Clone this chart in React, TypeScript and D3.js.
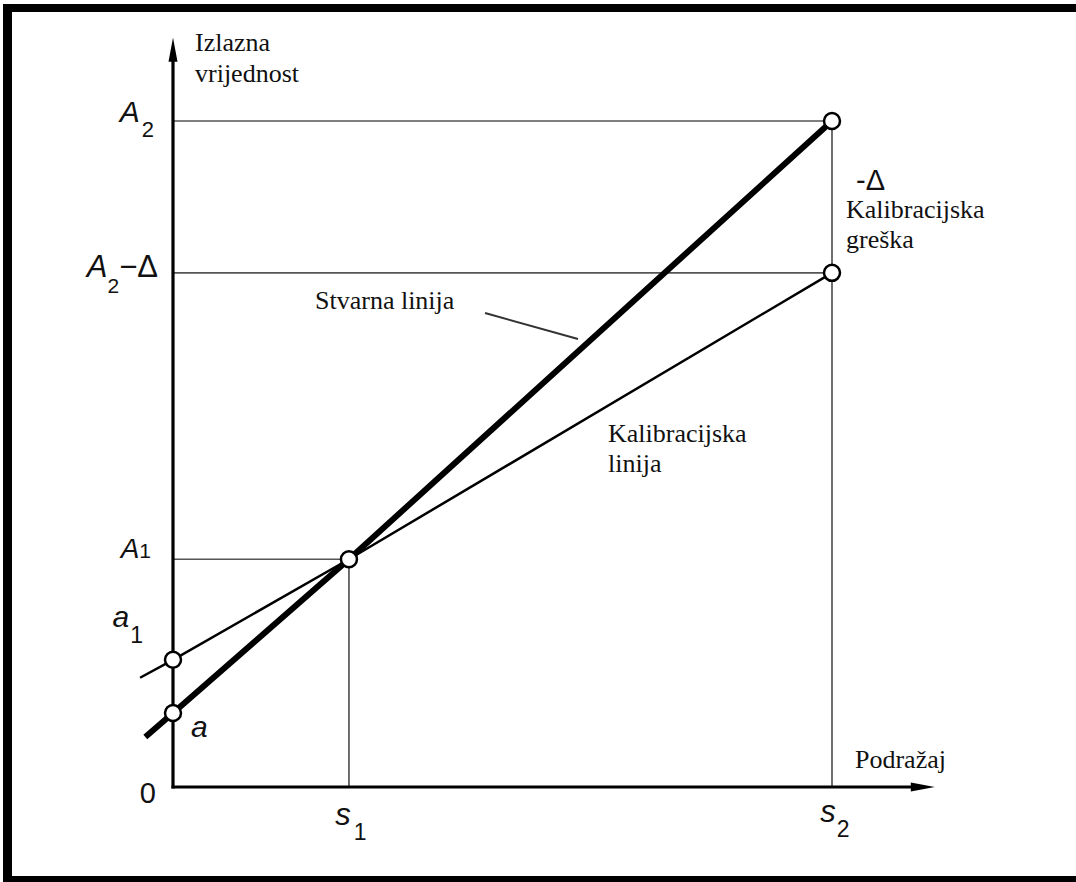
import React from 'react';
import * as d3 from 'd3';

// ─── data (stimulus on x, output on y; s2 = 10, A2 = 10) ────────────────────
const S1 = 2.67;
const S2 = 10;
const A1 = 3.42;
const A2 = 10;
const A2_DELTA = 7.72;
const A_ZERO = 1.11;   // "a"  – real line intercept
const A1_ZERO = 1.91;  // "a1" – calibration line intercept

const realX = [-0.42, 0, S1, S2];
const realY = [0.75, A_ZERO, A1, A2];
const calX = [-0.5, 0, S1, S2];
const calY = [1.64, A1_ZERO, A1, A2_DELTA];

const markerX = [0, 0, S1, S2, S2];
const markerY = [A_ZERO, A1_ZERO, A1, A2, A2_DELTA];

const X_MAX = 11.56; // x-axis arrow tip
const Y_MAX = 11.25; // y-axis arrow tip

const W = 1076;
const H = 882;

const MATH = '"Liberation Sans", Arial, sans-serif';
const SERIF = '"Liberation Serif", "Times New Roman", serif';

const x = d3.scaleLinear().domain([0, S2]).range([173, 832]);
const y = d3.scaleLinear().domain([0, A2]).range([787, 121]);

const zip = (xs: number[], ys: number[]) => xs.map((v, i) => [v, ys[i]] as [number, number]);
const line = d3.line<[number, number]>().x(d => x(d[0])).y(d => y(d[1]));

export default function App() {
  const x0 = x(0);
  const y0 = y(0);
  const guide = { stroke: '#555', strokeWidth: 1.7 };
  const ax = { stroke: '#000', strokeWidth: 3.2 };

  return (
    <svg width={W} height={H} style={{ position: 'absolute', left: 0, top: 0, background: '#fff' }}>
      {/* frame */}
      <rect x={3} y={4} width={W - 3} height={8} fill="#000" />
      <rect x={3} y={4} width={9} height={H - 4} fill="#000" />
      <rect x={3} y={876} width={W - 3} height={6} fill="#000" />

      {/* guides */}
      <line x1={x0} x2={x(S2)} y1={y(A2)} y2={y(A2)} {...guide} />
      <line x1={x0} x2={x(S2)} y1={y(A2_DELTA)} y2={y(A2_DELTA)} {...guide} />
      <line x1={x0} x2={x(S1)} y1={y(A1)} y2={y(A1)} {...guide} />
      <line x1={x(S1)} x2={x(S1)} y1={y(A1)} y2={y0} {...guide} />
      <line x1={x(S2)} x2={x(S2)} y1={y(A2)} y2={y0} {...guide} />

      {/* axes */}
      <line x1={x0} x2={x0} y1={y0 + 1.5} y2={y(Y_MAX) + 18} {...ax} />
      <path d={`M${x0},${y(Y_MAX)} L${x0 - 4.5},${y(Y_MAX) + 24} L${x0 + 4.5},${y(Y_MAX) + 24} Z`} fill="#000" />
      <line x1={x0 - 1.5} x2={x(X_MAX) - 18} y1={y0} y2={y0} {...ax} />
      <path d={`M${x(X_MAX)},${y0} L${x(X_MAX) - 24},${y0 - 4.5} L${x(X_MAX) - 24},${y0 + 4.5} Z`} fill="#000" />

      {/* lines */}
      <path d={line(zip(calX, calY)) ?? undefined} fill="none" stroke="#000" strokeWidth={2.5} />
      <path d={line(zip(realX, realY)) ?? undefined} fill="none" stroke="#000" strokeWidth={6} />

      {/* leader for "Stvarna linija" */}
      <line x1={485} y1={313} x2={578} y2={339} stroke="#333" strokeWidth={2} />

      {/* markers */}
      {markerX.map((mx, i) => (
        <circle key={i} cx={x(mx)} cy={y(markerY[i])} r={8} fill="#fff" stroke="#000" strokeWidth={2.5} />
      ))}

      {/* y labels */}
      <g fontFamily={MATH} fill="#111">
        <text x={154} y={y(A2) + 1} textAnchor="end">
          <tspan fontStyle="italic" fontSize={30}>A</tspan>
          <tspan fontSize={22} dx={2} dy={15}>2</tspan>
        </text>
        <text x={158} y={y(A2_DELTA) + 4} textAnchor="end">
          <tspan fontStyle="italic" fontSize={31}>A</tspan>
          <tspan fontSize={21} dx={0} dy={16}>2</tspan>
          <tspan fontSize={31} dy={-16}>−Δ</tspan>
        </text>
        <text x={151} y={y(A1) - 1} textAnchor="end">
          <tspan fontStyle="italic" fontSize={28}>A</tspan>
          <tspan fontSize={21}>1</tspan>
        </text>
        <text x={143} y={627} textAnchor="end">
          <tspan fontStyle="italic" fontSize={30}>a</tspan>
          <tspan fontSize={23} dx={1} dy={16}>1</tspan>
        </text>
        <text x={191} y={737} fontStyle="italic" fontSize={30}>a</text>
        <text x={156} y={803} textAnchor="end" fontSize={29}>0</text>

        <text x={x(S1) + 2} y={825} textAnchor="middle">
          <tspan fontStyle="italic" fontSize={31}>s</tspan>
          <tspan fontSize={23} dx={3} dy={15}>1</tspan>
        </text>
        <text x={x(S2) + 3} y={822} textAnchor="middle">
          <tspan fontStyle="italic" fontSize={31}>s</tspan>
          <tspan fontSize={23} dx={1} dy={15}>2</tspan>
        </text>
        <text x={856} y={190} fontSize={29}>-Δ</text>
      </g>

      {/* serif annotations */}
      <g fontFamily={SERIF} fontSize={26} fill="#111">
        <text x={195} y={51}>Izlazna</text>
        <text x={195} y={82}>vrijednost</text>
        <text x={855} y={768}>Podražaj</text>
        <text x={315} y={309}>Stvarna linija</text>
        <text x={608} y={442}>Kalibracijska</text>
        <text x={608} y={472}>linija</text>
        <text x={846} y={218}>Kalibracijska</text>
        <text x={846} y={248}>greška</text>
      </g>
    </svg>
  );
}
